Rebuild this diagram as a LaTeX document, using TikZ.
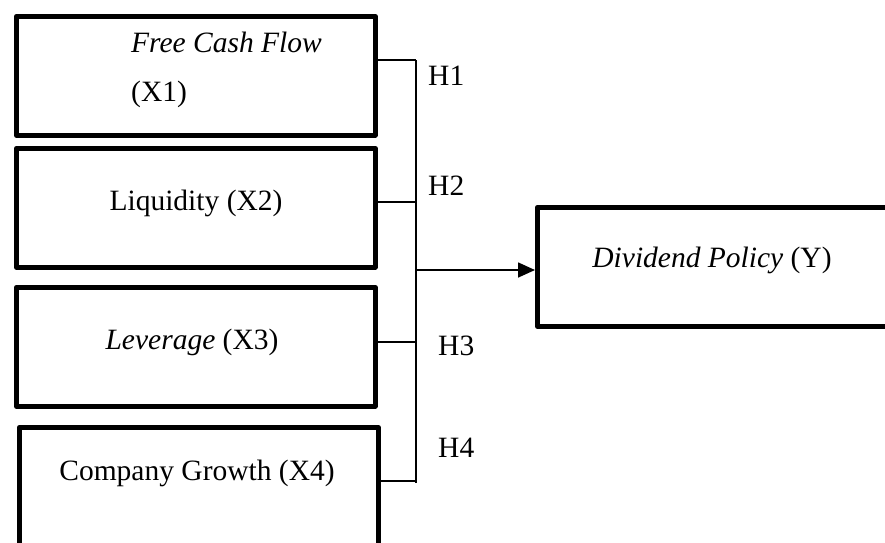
\documentclass[tikz,border=0pt]{standalone}
\usepackage{fontspec}
\setmainfont{Liberation Serif}
\usetikzlibrary{arrows.meta}
\begin{document}
\begin{tikzpicture}[x=1pt,y=-1pt,
  box/.style={draw, line width=4.5pt, line join=round, minimum width=359pt, minimum height=119pt, inner sep=0pt, anchor=north west},
  lbl/.style={font=\fontsize{29.5}{35}\selectfont, inner sep=0pt},
  conn/.style={line width=1.6pt}]
\useasboundingbox (0,0) rectangle (885,542);
\clip (0,0) rectangle (885,542);
% boxes
\node[box] (b1) at (14,14) {};
\node[box] (b2) at (14,146) {};
\node[box] (b3) at (14,285) {};
\node[box, minimum height=140pt] (b4) at (17,425) {};
\node[box, minimum width=380pt] (dv) at (535,205) {};
% texts
\node[lbl, anchor=base west] (t1a) at (131,52) {\textit{Free Cash Flow}};
\node[lbl, anchor=base west] (t1b) at (131,101) {(X1)};
\node[lbl, anchor=base] (t2) at (196,210) {Liquidity (X2)};
\node[lbl, anchor=base] (t3) at (192,349) {\textit{Leverage} (X3)};
\node[lbl, anchor=base] (t4) at (197,480) {Company Growth (X4)};
\node[lbl, anchor=base] (ty) at (712,267) {\textit{Dividend Policy} (Y)};
% bracket
\coordinate (k1) at (416,60);
\coordinate (k2) at (416,202);
\coordinate (k3) at (416,342);
\coordinate (k4) at (416,481);
\coordinate (ktop) at (416,60);
\coordinate (kbot) at (416,483);
\coordinate (a0) at (416,270);
\draw[conn] (ktop) -- (kbot);
\draw[conn] (b1.east |- k1) -- (k1);
\draw[conn] (b2.east |- k2) -- (k2);
\draw[conn] (b3.east |- k3) -- (k3);
\draw[conn] (b4.east |- k4) -- (k4);
\draw[conn, -{Triangle[length=17pt,width=15pt]}] (a0) -- (dv.west |- a0);
% hypothesis labels
\node[lbl, anchor=base west] (h1) at (428,85) {H1};
\node[lbl, anchor=base west] (h2) at (428,195) {H2};
\node[lbl, anchor=base west] (h3) at (438,355) {H3};
\node[lbl, anchor=base west] (h4) at (438,457) {H4};
\end{tikzpicture}
\end{document}
